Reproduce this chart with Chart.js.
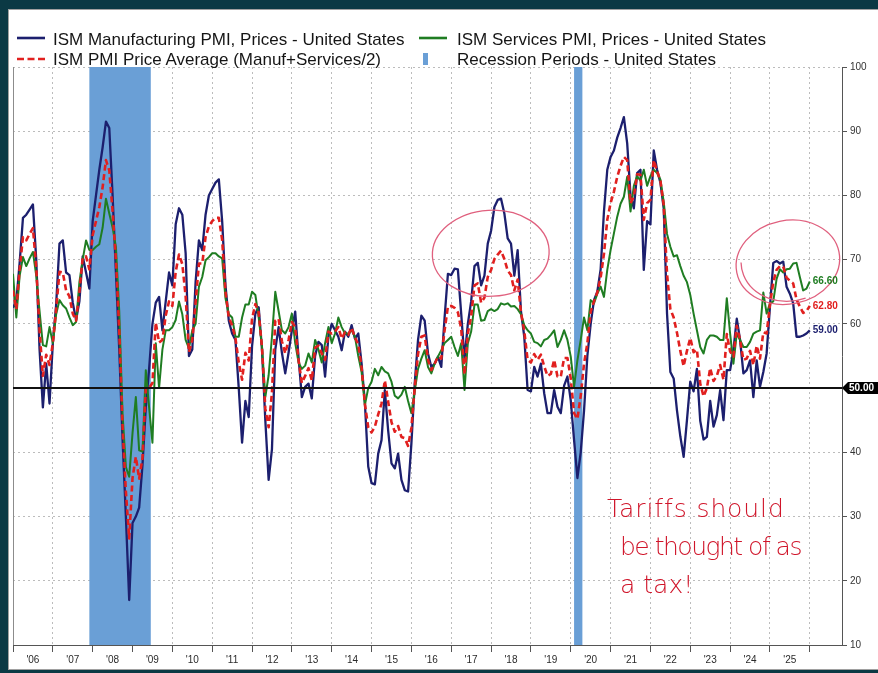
<!DOCTYPE html>
<html>
<head>
<meta charset="utf-8">
<title>ISM Prices</title>
<script src="https://cdn.jsdelivr.net/npm/chart.js@4.4.1/dist/chart.umd.min.js"></script>
<style>
  html, body { margin: 0; padding: 0; background: #0b3944; }
  #wrap { position: relative; width: 878px; height: 673px; overflow: hidden; font-family: "Liberation Sans", Arial, sans-serif; }
  #chart { position: absolute; left: 0; top: 0; }
  .legend { position: absolute; font-size: 17px; line-height: 19px; color: #151515; white-space: nowrap; }
  .swatch { position: absolute; overflow: visible; }
  .note { position: absolute; font-family: "DejaVu Sans", sans-serif; font-weight: 200; color: #d0152a; font-size: 25px; line-height: 28px; white-space: nowrap; }
</style>
</head>
<body>
<div id="wrap">
  <canvas id="chart" width="878" height="673"></canvas>

  <svg class="swatch" style="left:17px;top:34px" width="30" height="8"><line x1="0" y1="4" x2="28" y2="4" stroke="#1c1f6e" stroke-width="2.6"/></svg>
  <div class="legend" style="left:53px;top:29.6px">ISM Manufacturing PMI, Prices - United States</div>
  <svg class="swatch" style="left:17px;top:55px" width="30" height="8"><line x1="0" y1="4" x2="28" y2="4" stroke="#e1201f" stroke-width="2.6" stroke-dasharray="7,3.5"/></svg>
  <div class="legend" style="left:53px;top:49.6px">ISM PMI Price Average (Manuf+Services/2)</div>

  <svg class="swatch" style="left:419px;top:34px" width="30" height="8"><line x1="0" y1="4" x2="28" y2="4" stroke="#1f7d22" stroke-width="2.6"/></svg>
  <div class="legend" style="left:457px;top:29.6px">ISM Services PMI, Prices - United States</div>
  <svg class="swatch" style="left:423px;top:53px" width="6" height="12"><rect x="0" y="0" width="5" height="12" fill="#6a9fd6"/></svg>
  <div class="legend" style="left:457px;top:49.6px">Recession Periods - United States</div>

  <div class="note" style="left:607px;top:495px;letter-spacing:0.9px">Tariffs should</div>
  <div class="note" style="left:620px;top:533px;letter-spacing:-1.5px">be thought of as</div>
  <div class="note" style="left:620px;top:571px">a tax!</div>
</div>

<script>
// monthly values, Jan 2006 onward (one row per year)
const mfgPrices = [
  62.5, 63.5, 69.5, 76.5, 77, 77.8, 78.6, 70, 56, 47, 53.8, 47.6,
  57, 63, 72.5, 73, 68, 67.6, 63.3, 60.6, 63.5, 70.5, 68, 65.5,
  76, 80, 84, 87.5, 91.5, 90.5, 80, 68, 56, 42, 30, 17,
  29, 30, 31.4, 38, 47, 53, 60, 63.3, 64.2, 59, 63.5, 68,
  66, 75.5, 78, 77, 71, 55, 56, 66.5, 73, 71.5, 77, 80,
  81, 82, 82.5, 76, 66, 60.5, 58.5, 57.5, 50, 41.5, 48, 45.5,
  56.5, 61.6, 62.6, 56, 45, 35.7, 40.5, 56, 59.5, 55.5, 52.3, 55.5,
  59, 61.9, 54.8, 48.6, 50.2, 50.7, 48.4, 55, 57.2, 56.7, 51.8, 58,
  60, 59, 58, 55.9, 58.8, 58, 59.8, 57.7, 58.5, 53.8, 47.6, 37.8,
  35.2, 35, 39.8, 41.9, 49.7, 43.4, 38.3, 37.5, 39.8, 35.7, 34.1, 33.9,
  41.4, 50.7, 57.5, 61.3, 60.5, 55.4, 53.3, 53.8, 54.9, 53.3, 61, 67.8,
  67.6, 68.6, 68.5, 61.6, 54.5, 60, 63.5, 69, 69.5, 66, 67.5, 72.5,
  74.5, 78.2, 79.3, 79.5, 77.2, 73.3, 72.5, 67.5, 71.5, 62, 58, 49.7,
  49.5, 53.3, 51.8, 53.8, 49.2, 46.1, 46.1, 49.7, 47.1, 46.1, 50.4, 51.8,
  48.1, 41.9, 36, 40, 46.5, 55, 60, 63.7, 65, 68.5, 77.5, 84,
  86, 87, 89, 90.5, 92.2, 88.1, 80, 78, 83.5, 84, 68.4, 76,
  75.5, 87, 84, 82, 78, 61.6, 52.5, 51.5, 46.5, 42.5, 39.3, 45,
  51, 49.5, 53, 44.9, 42, 42.4, 48, 44, 45.8, 49.7, 45, 52.8,
  52.8, 55.9, 60.8, 57.5, 52.3, 52.8, 54.3, 48.6, 54.3, 50.2, 52.5, 55.4,
  62.7, 69.5, 69.8, 69.4, 69.7, 65.8, 64.7, 63.2, 58, 58, 58.2, 58.5,
  59
];

const svcPrices = [
  67.8, 61, 67.5, 70.4, 69, 70.2, 71.2, 67.5, 62, 56.7, 56.5, 59.5,
  57, 61.5, 63.7, 62.9, 62.4, 61, 59.8, 60.3, 66.5, 70, 73, 71.5,
  71.5, 72, 72.4, 75, 79.5, 77.2, 75, 72, 62, 46, 37.7, 36.2,
  43, 48.6, 40.3, 40.1, 52.8, 47, 41.5, 57, 50, 56, 59, 59,
  59.5, 60.6, 63.5, 61.5, 57.5, 56.2, 59, 60, 65.8, 67.3, 69.9, 70.4,
  71, 71, 70.5, 70.2, 64, 61.5, 61, 58, 58, 61, 63, 63,
  65, 64.5, 61, 56.5, 48.6, 52, 58, 65, 62, 59, 58.5, 59.5,
  61.6, 57, 54, 53, 53.5, 55.4, 54, 57.5, 56, 54, 57, 59.5,
  57, 58.5, 61, 59.5, 58.5, 58.5, 59, 58, 55, 52.5, 47.4, 50,
  51, 53, 52, 53.3, 52.6, 52.3, 51, 48.8, 48.4, 49, 50.2, 48,
  46.1, 49.5, 53, 54.6, 55.9, 53.3, 52.3, 53.8, 54.9, 55.9, 57, 57.5,
  58, 56.4, 55, 57, 49.7, 57, 58.8, 63, 63, 60.5, 60.6, 62,
  62.3, 62, 62.3, 63.2, 63, 63.2, 62.7, 62.8, 62.3, 61.5, 59.8, 59,
  58.5, 57.2, 57, 56.5, 57.5, 57.7, 58.3, 59, 56.4, 57.5, 59, 57.5,
  54.9, 50.2, 54.3, 57.5, 61, 59, 63.7, 63.2, 64.7, 65.8, 64.2, 68.4,
  71.5, 74.1, 76.7, 78.7, 79.8, 82.9, 77.5, 81.5, 83, 82.3, 84, 81.5,
  83, 84, 83.5, 82.5, 79, 74, 72, 70.5, 70.7, 69, 67.5, 66.5,
  64.5, 61.6, 59, 56.4, 55.4, 57.5, 58.2, 58.2, 58, 57.5, 57.5, 64,
  58.5, 53.8, 58.5, 57.5, 56.4, 56.4, 57.2, 58.5, 58.8, 59, 64.9, 61.6,
  63.2, 63.5, 67, 68.5, 68, 68.5, 68.6, 69.4, 69.5, 67.3, 65.2, 65.5,
  66.6
];

const avgPrices = [
  65.2, 62.3, 68.5, 73.5, 73, 74, 74.9, 68.8, 59, 51.9, 55.2, 53.6,
  57, 62.3, 68.1, 68, 65.2, 64.3, 61.6, 60.5, 65, 70.3, 70.5, 68.5,
  73.8, 76, 78.2, 81.3, 85.5, 83.9, 77.5, 70, 59, 44, 33.9, 26.6,
  36, 39.3, 35.9, 39.1, 49.9, 50, 50.8, 60.2, 57.1, 57.5, 61.3, 63.5,
  62.8, 68.1, 70.8, 69.3, 64.3, 55.6, 57.5, 63.3, 69.4, 69.4, 73.5, 75.2,
  76, 76.5, 76.5, 73.1, 65, 61, 59.8, 57.8, 54, 51.3, 55.5, 54.3,
  60.8, 63.1, 61.8, 56.3, 46.8, 43.9, 49.3, 60.5, 60.8, 57.3, 55.4, 57.5,
  60.3, 59.5, 54.4, 50.8, 51.9, 53.1, 51.2, 56.3, 56.6, 55.4, 54.4, 58.8,
  58.5, 58.8, 59.5, 57.7, 58.7, 58.3, 59.4, 57.9, 56.8, 53.2, 47.5, 43.9,
  43.1, 44, 45.9, 47.6, 51.2, 47.9, 44.7, 43.2, 44.1, 42.4, 42.2, 41,
  43.8, 50.1, 55.3, 58, 58.2, 54.4, 52.8, 53.8, 54.9, 54.6, 59, 62.7,
  62.8, 62.5, 61.8, 59.3, 52.1, 58.5, 61.2, 66, 66.3, 63.3, 64.1, 67.3,
  68.4, 70.1, 70.8, 71.4, 70.1, 68.3, 67.6, 65.2, 66.9, 61.8, 58.9, 54.4,
  54, 55.3, 54.4, 55.2, 53.4, 51.9, 52.2, 54.4, 51.8, 51.8, 54.7, 54.7,
  51.5, 46.1, 45.2, 48.8, 53.8, 57, 61.9, 63.5, 64.9, 67.2, 70.9, 76.2,
  78.8, 80.6, 82.9, 84.6, 86, 85.5, 78.8, 79.8, 83.3, 83.2, 76.2, 78.8,
  79.3, 85.5, 83.8, 82.3, 78.5, 67.8, 62.3, 61, 58.6, 55.8, 53.4, 55.8,
  57.8, 55.6, 56, 50.7, 48.7, 50, 53.1, 51.1, 51.9, 53.6, 51.3, 58.4,
  55.7, 54.9, 59.7, 57.5, 54.4, 54.6, 55.8, 53.6, 56.6, 54.6, 58.7, 58.5,
  63, 66.5, 68.4, 69, 68.9, 67.2, 66.7, 66.3, 63.8, 62.7, 61.7, 62,
  62.8
];

const yearLabels = ["'06", "'07", "'08", "'09", "'10", "'11", "'12", "'13", "'14", "'15",
                    "'16", "'17", "'18", "'19", "'20", "'21", "'22", "'23", "'24", "'25"];
const yearTicks = [0, 12, 24, 36, 48, 60, 72, 84, 96, 108, 120, 132, 144, 156, 168, 180, 192, 204, 216, 228, 240];

const recessionStart = ['2007-12', '2020-02'];
const recessionEnd = ['2009-06', '2020-04'];

const navy = '#1c1f6e';
const green = '#1f7d22';
const red = '#e1201f';
const recessionColor = '#6a9fd6';
const circleColor = '#e0607e';

// month index counted from Jan 2006
const monthIndex = s => {
    const [y, m] = s.split('-').map(Number);
    return (y - 2006) * 12 + (m - 1);
};
const toPoints = vals => vals.map((v, i) => ({x: i, y: v}));

const framePlugin = {
    id: 'frame',
    beforeDraw(chart) {
        const {ctx, width, height} = chart;
        ctx.save();
        ctx.fillStyle = '#0b3944';
        ctx.fillRect(0, 0, width, height);
        ctx.fillStyle = '#ffffff';
        ctx.fillRect(8, 9, width - 8, height - 12);
        ctx.strokeStyle = '#a0a0a0';
        ctx.lineWidth = 1;
        ctx.strokeRect(8.5, 9.5, width - 8, height - 13);
        ctx.restore();
    }
};

const recessionPlugin = {
    id: 'recessions',
    beforeDatasetsDraw(chart) {
        const {ctx, chartArea: a, scales: {x}} = chart;
        ctx.save();
        ctx.fillStyle = recessionColor;
        recessionStart.forEach((s, k) => {
            const x0 = x.getPixelForValue(monthIndex(s));
            const x1 = x.getPixelForValue(monthIndex(recessionEnd[k]) + 0.5);
            ctx.fillRect(x0, a.top, x1 - x0, a.bottom - a.top);
        });
        // solid left edge of the plot
        ctx.strokeStyle = '#8c8c8c';
        ctx.lineWidth = 1;
        ctx.beginPath();
        ctx.moveTo(a.left + 0.5, a.top);
        ctx.lineTo(a.left + 0.5, a.bottom);
        ctx.stroke();
        ctx.restore();
    }
};

// hand drawn circles: centre (month, value), radii (months, value units)
const circles = [
    {x: 143.9, y: 71.0, rx: 17.6, ry: 6.7, rot: -0.06},
    {x: 233.4, y: 69.6, rx: 15.7, ry: 6.5, rot: -0.2}
];

const notesPlugin = {
    id: 'notes',
    afterDatasetsDraw(chart) {
        const {ctx, chartArea: a, scales: {x, y}} = chart;
        ctx.save();

        // 50 line
        const y50 = y.getPixelForValue(50);
        ctx.strokeStyle = '#111';
        ctx.lineWidth = 2;
        ctx.beginPath();
        ctx.moveTo(a.left, y50);
        ctx.lineTo(a.right, y50);
        ctx.stroke();

        // circles
        ctx.strokeStyle = circleColor;
        ctx.lineWidth = 1.3;
        circles.forEach((c, k) => {
            const cx = x.getPixelForValue(c.x), cy = y.getPixelForValue(c.y);
            const rx = x.getPixelForValue(c.x + c.rx) - cx;
            const ry = cy - y.getPixelForValue(c.y + c.ry);
            ctx.beginPath();
            ctx.ellipse(cx, cy, rx, ry, c.rot, 0, Math.PI * 2);
            ctx.stroke();
            if (k === 1) {
                ctx.beginPath();
                ctx.ellipse(cx + 2, cy - 3, rx - 3, ry, c.rot, Math.PI * 0.45, Math.PI * 1.05);
                ctx.stroke();
            }
        });

        // last values
        const last = mfgPrices.length - 1;
        const px = x.getPixelForValue(last) + 3;
        ctx.font = 'bold 10px "Liberation Sans", Arial, sans-serif';
        ctx.textBaseline = 'middle';
        ctx.textAlign = 'left';
        [[svcPrices, green], [avgPrices, red], [mfgPrices, navy]].forEach(([vals, col]) => {
            ctx.fillStyle = col;
            ctx.fillText(vals[last].toFixed(2), px, y.getPixelForValue(vals[last]));
        });

        // 50.00 flag on the axis
        const r = a.right;
        ctx.fillStyle = '#000';
        ctx.beginPath();
        ctx.moveTo(r, y50);
        ctx.lineTo(r + 6, y50 - 6);
        ctx.lineTo(r + 36, y50 - 6);
        ctx.lineTo(r + 36, y50 + 6);
        ctx.lineTo(r + 6, y50 + 6);
        ctx.closePath();
        ctx.fill();
        ctx.fillStyle = '#fff';
        ctx.font = 'bold 10px "Liberation Sans", Arial, sans-serif';
        ctx.fillText('50.00', r + 7, y50 + 0.5);

        ctx.restore();
    }
};

new Chart(document.getElementById('chart'), {
    type: 'line',
    data: {
        datasets: [{
            label: 'ISM PMI Price Average (Manuf+Services/2)',
            data: toPoints(avgPrices),
            borderColor: red,
            borderWidth: 2.6,
            borderDash: [6, 3.5],
            order: 1
        }, {
            label: 'ISM Services PMI, Prices - United States',
            data: toPoints(svcPrices),
            borderColor: green,
            borderWidth: 2,
            order: 2
        }, {
            label: 'ISM Manufacturing PMI, Prices - United States',
            data: toPoints(mfgPrices),
            borderColor: navy,
            borderWidth: 2.3,
            order: 3
        }]
    },
    options: {
        responsive: false,
        animation: false,
        events: [],
        layout: {padding: {left: 13, top: 67, right: 0, bottom: 0}},
        elements: {
            point: {radius: 0},
            line: {tension: 0, borderJoinStyle: 'round', fill: false}
        },
        plugins: {
            legend: {display: false},
            tooltip: {enabled: false}
        },
        scales: {
            x: {
                type: 'linear',
                min: 0,
                max: 249.7,
                afterBuildTicks: s => { s.ticks = yearTicks.map(v => ({value: v})); },
                afterFit: s => { s.height = 28; },
                ticks: {
                    autoSkip: false,
                    maxRotation: 0,
                    labelOffset: 19.9,
                    padding: 2,
                    color: '#2a2a2a',
                    font: {family: '"Liberation Sans", Arial, sans-serif', size: 10},
                    callback: v => yearLabels[v / 12] ?? ''
                },
                grid: {color: '#bcbcbc', tickColor: '#555', tickLength: 7, lineWidth: 1},
                border: {display: true, color: '#555', width: 1, dash: [2, 3]}
            },
            y: {
                position: 'right',
                min: 10,
                max: 100,
                afterFit: s => { s.width = 36; },
                ticks: {
                    stepSize: 10,
                    padding: 3,
                    color: '#333',
                    font: {family: '"Liberation Sans", Arial, sans-serif', size: 10},
                    callback: v => (v === 50 ? '' : v)
                },
                grid: {color: '#bcbcbc', tickColor: '#555', tickLength: 5, lineWidth: 1},
                border: {display: true, color: '#555', width: 1, dash: [2, 3]}
            }
        }
    },
    plugins: [framePlugin, recessionPlugin, notesPlugin]
});
</script>
</body>
</html>
